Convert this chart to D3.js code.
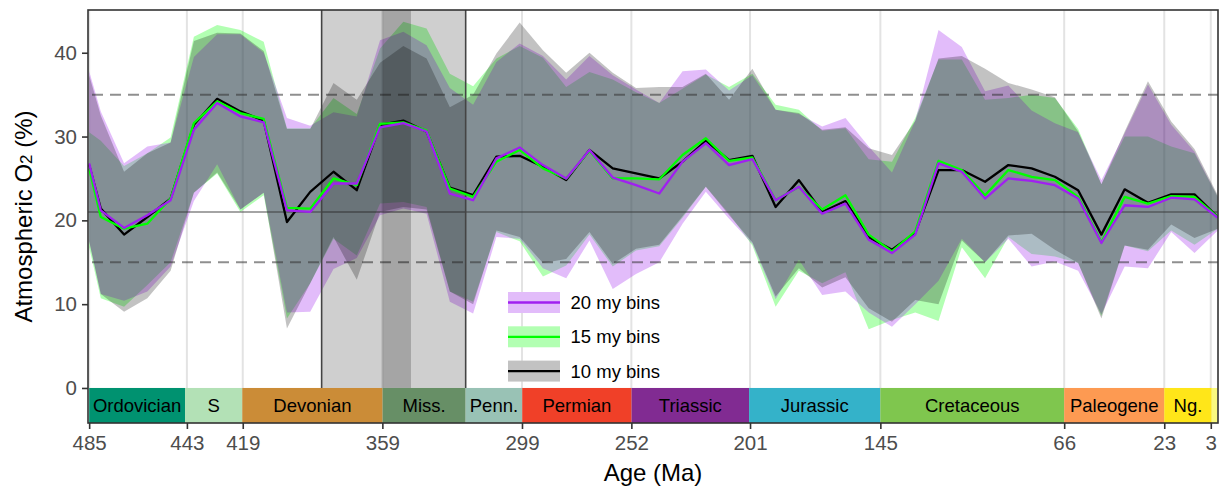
<!DOCTYPE html>
<html><head><meta charset="utf-8">
<script src="https://cdn.jsdelivr.net/npm/d3@7"></script>
<style>body{margin:0;background:#fff}svg{display:block;font-family:"Liberation Sans",Arial,Helvetica,sans-serif}</style>
</head><body><svg id="c" width="1220" height="489"></svg>
<script>
// ---- data ----
const ages = [485,480,470,460,450,440,430,420,410,400,390,380,370,360,350,340,330,320,310,300,290,280,270,260,250,240,230,220,210,200,190,180,170,160,150,140,130,120,110,100,90,80,70,60,50,40,30,20,10,0];
// 20 my bins
const mean20 = [26.8,21.2,19.1,20.6,22.4,30.8,34.0,32.4,31.7,21.2,21.0,24.4,24.4,31.1,31.6,30.6,23.2,22.4,27.4,28.7,26.6,25.0,28.4,25.1,24.2,23.2,27.0,29.2,26.6,27.3,22.4,24.0,20.8,22.0,17.7,16.1,18.3,26.8,25.8,22.6,25.0,24.7,24.2,22.6,17.3,21.8,21.6,22.7,22.5,20.3];
const upper20 = [37.8,33.0,26.8,28.8,29.3,39.5,42.2,42.2,40.0,32.2,31.3,32.9,32.4,41.5,42.5,40.9,35.8,33.8,38.9,41.1,39.6,36.8,39.6,37.3,35.6,34.0,37.8,38.0,35.5,37.3,33.2,32.7,31.2,32.2,28.8,25.7,31.9,42.7,40.7,35.4,36.1,33.1,31.6,30.5,24.8,30.4,36.2,31.4,28.2,22.8];
const lower20 = [17.5,11.2,10.4,11.5,14.5,22.3,26.7,21.3,23.3,9.0,9.1,14.2,15.5,20.6,21.4,20.8,10.3,8.9,18.0,17.8,14.3,13.1,17.6,11.8,13.6,15.0,19.6,23.4,20.2,17.2,10.6,15.3,11.1,11.5,9.0,7.3,10.0,12.8,17.8,15.0,17.8,14.5,15.1,14.0,8.8,14.5,14.3,18.6,16.1,18.8];
// 15 my bins
const mean15 = [26.2,20.4,19.0,19.6,22.6,31.6,34.2,32.8,32.1,21.5,21.4,25.0,24.2,31.5,31.7,30.7,23.8,22.8,27.0,28.4,26.2,25.0,28.3,25.0,25.0,24.9,27.8,29.8,27.1,27.5,22.4,24.0,21.3,23.0,18.3,16.3,18.7,27.1,26.0,23.0,26.0,25.2,24.8,22.8,17.4,22.8,22.0,22.9,22.8,20.4];
const upper15 = [30.5,29.5,26.5,28.0,29.9,41.9,43.3,42.7,41.3,31.0,31.0,34.6,32.7,40.5,43.7,42.9,37.5,36.0,39.3,40.8,39.4,35.9,37.7,36.8,35.3,34.0,35.7,37.4,35.9,37.5,33.8,33.2,30.7,31.0,27.3,27.0,32.2,39.2,39.2,34.4,34.6,35.0,34.6,30.9,24.3,30.0,30.0,28.8,28.0,22.8];
const lower15 = [16.8,10.7,9.7,12.3,15.0,23.3,25.6,21.0,23.0,8.3,12.5,17.8,15.8,22.0,22.2,21.6,11.5,10.3,18.6,17.5,13.3,14.6,18.3,14.5,16.4,16.9,20.3,24.0,20.8,17.0,9.7,14.0,12.5,13.8,7.0,8.1,9.0,8.0,16.8,13.1,18.0,16.0,15.7,14.9,8.6,17.0,16.3,18.8,17.1,19.0];
// 10 my bins
const mean10 = [26.6,21.4,18.3,20.4,22.6,31.4,34.5,33.0,31.9,19.8,23.4,25.8,23.6,31.4,31.9,30.6,23.9,23.0,27.6,27.7,26.4,24.8,28.4,26.2,25.6,25.0,27.0,29.5,27.2,27.7,21.6,24.8,21.0,22.3,18.0,16.5,18.5,26.0,26.0,24.6,26.6,26.2,25.2,23.6,18.3,23.7,22.1,23.1,23.1,20.4];
const upper10 = [37.3,32.5,25.8,28.0,29.3,41.4,42.4,42.3,40.2,30.9,30.9,36.4,34.4,38.8,40.8,39.3,33.5,35.0,39.9,43.6,40.3,37.6,40.0,37.6,35.8,35.9,35.9,37.5,34.4,38.1,33.2,32.8,30.8,31.1,28.6,27.8,31.9,39.3,39.6,38.1,36.4,35.6,34.7,30.6,24.3,30.6,36.6,31.8,28.5,23.0];
const lower10 = [17.5,11.2,9.1,10.7,14.0,23.3,25.7,21.3,23.3,7.1,12.5,18.0,12.9,21.0,21.6,21.3,11.5,10.0,18.8,18.0,14.9,15.4,18.6,14.8,16.6,17.1,20.5,24.0,20.6,17.4,10.9,14.3,12.0,13.2,9.5,7.9,10.5,10.0,17.6,15.0,18.2,18.4,16.5,14.9,8.3,17.0,16.5,19.5,17.9,19.0];

const xTicks = [485,443,419,359,299,252,201,145,66,23,3];
const yTicks = [0,10,20,30,40];
const refSolid = [21];
const refDashed = [15,35];
const periodNames = ["Ordovician","S","Devonian","Miss.","Penn.","Permian","Triassic","Jurassic","Cretaceous","Paleogene","Ng.",""];
const periodStart = [485,443.8,419.2,358.9,323.2,298.9,251.9,201.4,145,66,23,2.6];
const periodEnd   = [443.8,419.2,358.9,323.2,298.9,251.9,201.4,145,66,23,2.6,0];
const periodColors = ["#009270","#B3E1B6","#CB8C37","#678F66","#99C2B5","#F04028","#812B92","#34B2C9","#7FC64E","#FD9A52","#FFE619","#F9F97F"];
const shadeLight = [385.1,323.2];
const shadeDark = [358.9,346.7];
const seriesNames = ["20 my bins","15 my bins","10 my bins"];
const lineColors = ["#A020F0","#00FF00","#000000"];

// ---- layout ----
const svg = d3.select("#c");
const L=88, R=1218, T=10, B=423;
const x = d3.scaleLinear().domain([485.5,-0.1]).range([L,R]);
const y = d3.scaleLinear().domain([-4.18,45.1]).range([B,T]);

const series = [
  {name:seriesNames[1], mean:mean15, up:upper15, lo:lower15, line:lineColors[1], fill:"#00FF00", op:0.3},
  {name:seriesNames[0], mean:mean20, up:upper20, lo:lower20, line:lineColors[0], fill:"#A020F0", op:0.3},
  {name:seriesNames[2], mean:mean10, up:upper10, lo:lower10, line:lineColors[2], fill:"#000000", op:0.24}
];

svg.append("rect").attr("x",L).attr("y",T).attr("width",R-L).attr("height",B-T).attr("fill","#fff");

svg.append("clipPath").attr("id","pc").append("rect").attr("x",L).attr("y",T).attr("width",R-L).attr("height",B-T);
const g = svg.append("g").attr("clip-path","url(#pc)");

// gridlines
g.selectAll(".vg").data(xTicks).join("line")
  .attr("x1",d=>x(d)).attr("x2",d=>x(d)).attr("y1",T).attr("y2",B)
  .attr("stroke","#e3e3e3").attr("stroke-width",2);

// ribbons
const area = (s)=>d3.area().x((d,i)=>x(ages[i])).y0((d,i)=>y(s.lo[i])).y1((d,i)=>y(s.up[i]));
series.forEach(s=>{
  g.append("path").datum(ages).attr("d",area(s)).attr("fill",s.fill).attr("fill-opacity",s.op);
});

// reference lines
g.selectAll(".rs").data(refSolid).join("line")
  .attr("x1",L).attr("x2",R).attr("y1",d=>y(d)).attr("y2",d=>y(d))
  .attr("stroke","#333").attr("stroke-opacity",0.6).attr("stroke-width",1.6);
g.selectAll(".rd").data(refDashed).join("line")
  .attr("x1",L).attr("x2",R).attr("y1",d=>y(d)).attr("y2",d=>y(d))
  .attr("stroke","#333").attr("stroke-opacity",0.55).attr("stroke-width",2)
  .attr("stroke-dasharray","11,7").attr("stroke-dashoffset",-4);

// shaded intervals
g.append("rect").attr("x",x(shadeLight[0])).attr("width",x(shadeLight[1])-x(shadeLight[0]))
  .attr("y",T).attr("height",y(0)-T).attr("fill","#000").attr("fill-opacity",0.19);
g.append("rect").attr("x",x(shadeDark[0])).attr("width",x(shadeDark[1])-x(shadeDark[0]))
  .attr("y",T).attr("height",y(0)-T).attr("fill","#000").attr("fill-opacity",0.2);
shadeLight.forEach(a=>{
  g.append("line").attr("x1",x(a)).attr("x2",x(a)).attr("y1",T).attr("y2",y(0))
   .attr("stroke","#444").attr("stroke-width",1.6);
});

// mean lines (black, green, purple on top)
const line = (s)=>d3.line().x((d,i)=>x(ages[i])).y((d,i)=>y(s.mean[i]));
[series[2],series[0],series[1]].forEach(s=>{
  g.append("path").datum(ages).attr("d",line(s)).attr("fill","none")
   .attr("stroke",s.line).attr("stroke-width",2.3).attr("stroke-linejoin","round");
});

// timescale
const ts = g.append("g");
ts.selectAll("rect").data(periodNames).join("rect")
  .attr("x",(d,i)=>x(periodStart[i])).attr("width",(d,i)=>x(periodEnd[i])-x(periodStart[i]))
  .attr("y",y(0)).attr("height",y(-4.18)-y(0)).attr("fill",(d,i)=>periodColors[i]);
ts.selectAll("text").data(periodNames).join("text")
  .attr("x",(d,i)=>(x(periodStart[i])+x(periodEnd[i]))/2).attr("y",(y(0)+y(-4.18))/2+6.5)
  .attr("text-anchor","middle").attr("font-size",18.5).attr("fill","#000").text(d=>d);

// panel border
svg.append("rect").attr("x",L).attr("y",T).attr("width",R-L).attr("height",B-T)
  .attr("fill","none").attr("stroke","#333").attr("stroke-width",1.6);

// axes
const xa = svg.append("g").attr("transform",`translate(0,${B})`)
  .call(d3.axisBottom(x).tickValues(xTicks).tickSize(6).tickPadding(6).tickFormat(d3.format("d")));
const ya = svg.append("g").attr("transform",`translate(${L},0)`)
  .call(d3.axisLeft(y).tickValues(yTicks).tickSize(6).tickPadding(5));
[xa,ya].forEach(a=>{
  a.select(".domain").remove();
  a.selectAll(".tick line").attr("stroke","#333").attr("stroke-width",1.6);
  a.selectAll(".tick text").attr("fill","#4d4d4d").attr("font-size",20.5)
   .attr("font-family",'"Liberation Sans",Arial,sans-serif');
});

svg.append("text").attr("x",(L+R)/2).attr("y",481).attr("text-anchor","middle")
  .attr("font-size",24).attr("fill","#000").text("Age (Ma)");
const yl = svg.append("text").attr("transform",`translate(32,${(T+B)/2}) rotate(-90)`)
  .attr("text-anchor","middle").attr("font-size",24).attr("fill","#000");
yl.append("tspan").text("Atmospheric O");
yl.append("tspan").attr("font-size",17).text("2");
yl.append("tspan").text(" (%)");

// legend
const leg = svg.append("g");
const legOrder = [series[1],series[0],series[2]];
legOrder.forEach((s,i)=>{
  const yy = 292 + i*34.3;
  leg.append("rect").attr("x",508).attr("y",yy).attr("width",52).attr("height",21).attr("fill","#fff");
  leg.append("rect").attr("x",508).attr("y",yy).attr("width",52).attr("height",21)
    .attr("fill",s.fill).attr("fill-opacity",s.op);
  leg.append("line").attr("x1",508).attr("x2",560).attr("y1",yy+10.5).attr("y2",yy+10.5)
    .attr("stroke",s.line).attr("stroke-width",2.3);
  leg.append("text").attr("x",570.5).attr("y",yy+17).attr("font-size",18.5).attr("fill","#000").text(s.name);
});
</script></body></html>
